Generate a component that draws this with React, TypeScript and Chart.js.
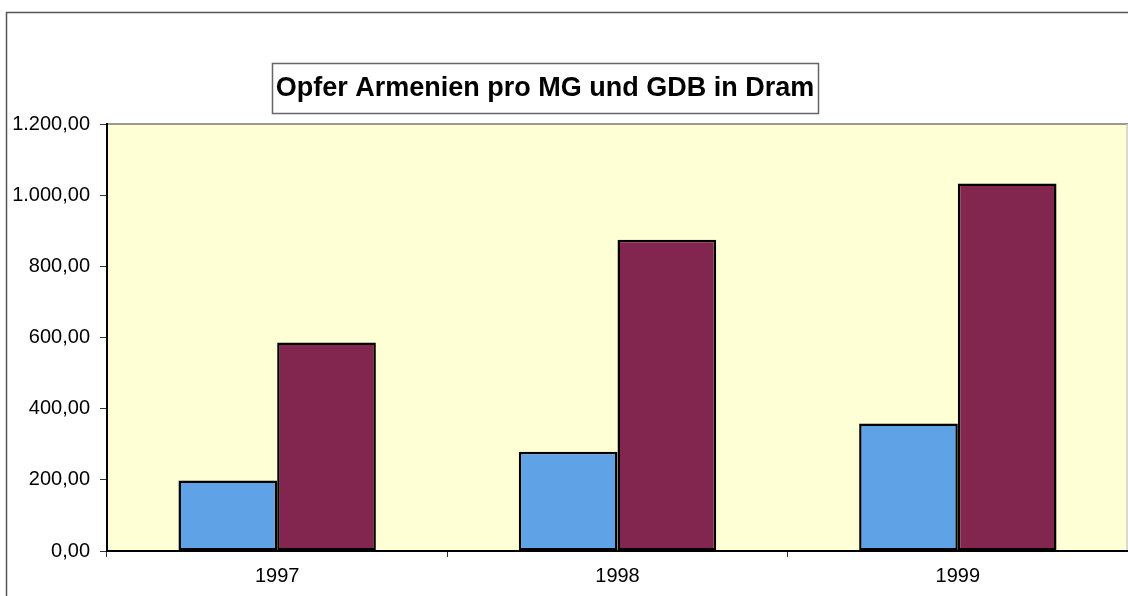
import React, { useEffect, useRef } from "react";
import { Chart, registerables } from "chart.js";

Chart.register(...registerables);

const categories = ["1997", "1998", "1999"];
const proMG = [198, 279, 358];
const proGDB = [586, 875, 1033];
const yTicks = [0, 200, 400, 600, 800, 1000, 1200];
const titleText = "Opfer Armenien pro MG und GDB in Dram";

function fmtDE(v: number): string {
  const fixed = v.toFixed(2);
  const [intPart, dec] = fixed.split(".");
  const withDots = intPart.replace(/\B(?=(\d{3})+(?!\d))/g, ".");
  return withDots + "," + dec;
}

const FONT = "'Liberation Sans', Arial, sans-serif";

const decorPlugin = {
  id: "decor",
  beforeDraw(chart: any) {
    const ctx = chart.ctx;
    const a = chart.chartArea;
    ctx.save();
    ctx.fillStyle = "#ffffff";
    ctx.fillRect(0, 0, chart.width, chart.height);
    // outer frame
    ctx.strokeStyle = "#555555";
    ctx.lineWidth = 1.5;
    ctx.strokeRect(6.5, 12.5, 1125, 590);
    // plot background
    ctx.fillStyle = "#ffffd6";
    ctx.fillRect(a.left, a.top, a.right - a.left, a.bottom - a.top);
    ctx.strokeStyle = "#777777";
    ctx.lineWidth = 1.5;
    ctx.beginPath();
    ctx.moveTo(a.left, a.top);
    ctx.lineTo(a.right, a.top);
    ctx.stroke();
    ctx.strokeStyle = "#cccccc";
    ctx.beginPath();
    ctx.moveTo(a.right - 1, a.top);
    ctx.lineTo(a.right - 1, a.bottom);
    ctx.stroke();
    ctx.restore();
  },
  afterDraw(chart: any) {
    const ctx = chart.ctx;
    ctx.save();
    const x0 = 272, y0 = 63, w = 546, h = 50;
    ctx.fillStyle = "#ffffff";
    ctx.fillRect(x0, y0, w, h);
    ctx.strokeStyle = "#666666";
    ctx.lineWidth = 1.5;
    ctx.strokeRect(x0 + 0.5, y0 + 0.5, w, h);
    ctx.fillStyle = "#000000";
    ctx.font = "bold 27px " + FONT;
    ctx.textAlign = "center";
    ctx.textBaseline = "middle";
    ctx.fillText(titleText, x0 + w / 2, y0 + h / 2 + 1);
    ctx.restore();
  },
};

export default function App() {
  const ref = useRef<HTMLCanvasElement | null>(null);
  useEffect(() => {
    if (!ref.current) return;
    const chart = new Chart(ref.current, {
      type: "bar",
      data: {
        labels: categories,
        datasets: [
          {
            label: "pro MG",
            data: proMG,
            backgroundColor: "#5fa2e6",
            borderColor: "#000000",
            borderWidth: 2.5,
            borderSkipped: false,
            categoryPercentage: 0.58,
            barPercentage: 1,
          },
          {
            label: "pro GDB",
            data: proGDB,
            backgroundColor: "#83264f",
            borderColor: "#000000",
            borderWidth: 2.5,
            borderSkipped: false,
            categoryPercentage: 0.58,
            barPercentage: 1,
          },
        ],
      },
      options: {
        responsive: false,
        animation: false,
        layout: { padding: { left: 0, top: 124, right: 0, bottom: 0 } },
        plugins: { legend: { display: false }, title: { display: false }, tooltip: { enabled: false } },
        scales: {
          x: {
            offset: true,
            afterFit(scale: any) {
              scale.height = 45;
            },
            grid: {
              offset: true,
              drawOnChartArea: false,
              drawTicks: true,
              tickLength: 6,
              color: "#333333",
            },
            border: { color: "#000000", width: 2 },
            ticks: {
              color: "#000000",
              padding: 7,
              font: { family: FONT, size: 20 },
            },
          },
          y: {
            min: 0,
            max: 1200,
            afterFit(scale: any) {
              scale.width = 107;
            },
            afterBuildTicks(scale: any) {
              scale.ticks = yTicks.map((v) => ({ value: v }));
            },
            grid: {
              drawOnChartArea: false,
              drawTicks: true,
              tickLength: 7,
              color: "#333333",
            },
            border: { color: "#000000", width: 2 },
            ticks: {
              color: "#000000",
              padding: 10,
              font: { family: FONT, size: 20 },
              callback: (v: any) => fmtDE(Number(v)),
            },
          },
        },
      },
      plugins: [decorPlugin],
    });
    return () => chart.destroy();
  }, []);
  return (
    <div style={{ position: "fixed", left: 0, top: 0, width: 1128, height: 596 }}>
      <canvas ref={ref} width={1128} height={596} style={{ display: "block" }} />
    </div>
  );
}
